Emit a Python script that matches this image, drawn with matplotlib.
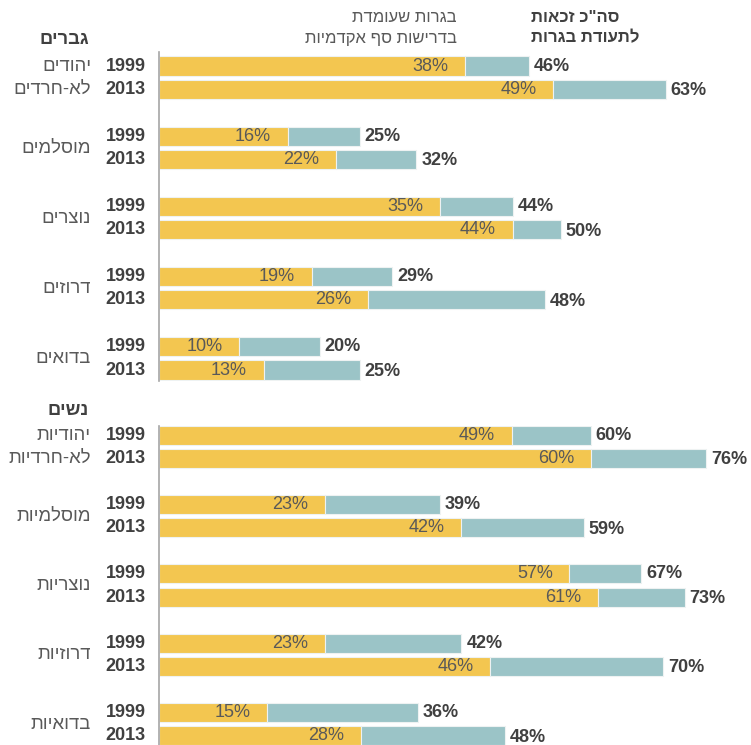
#Horizontal stacked bars: matriculation eligibility 1999 vs 2013, men and women by population group

import matplotlib.pyplot as plt
from matplotlib.transforms import blended_transform_factory

###*******  DATA  *********###
years = ['1999', '2013']

men_groups = ['יהודים', 'מוסלמים', 'נוצרים', 'דרוזים', 'בדואים']
men_groups_line2 = ['לא-חרדים', '', '', '', '']
men_base_1999 = [38, 16, 35, 19, 10]
men_total_1999 = [46, 25, 44, 29, 20]
men_base_2013 = [49, 22, 44, 26, 13]
men_total_2013 = [63, 32, 50, 48, 25]

women_groups = ['יהודיות', 'מוסלמיות', 'נוצריות', 'דרוזיות', 'בדואיות']
women_groups_line2 = ['לא-חרדיות', '', '', '', '']
women_base_1999 = [49, 23, 57, 23, 15]
women_total_1999 = [60, 39, 67, 42, 36]
women_base_2013 = [60, 42, 61, 46, 28]
women_total_2013 = [76, 59, 73, 70, 48]

header_base = ['בגרות שעומדת', 'בדרישות סף אקדמיות']
header_total = ['סה"כ זכאות', 'לתעודת בגרות']
title_men = 'גברים'
title_women = 'נשים'

#colors and fonts
yellow = '#F3C650'
teal = '#9BC4C7'
dark = '#404040'
mid = '#595959'
narrow = ['Liberation Sans Narrow', 'Liberation Sans', 'DejaVu Sans']
heb = ['Liberation Sans', 'DejaVu Sans']


def rtl(s):
    #matplotlib has no bidi, so flip hebrew for display
    return s[::-1]


W, H = 751, 745
fig = plt.figure(figsize=(W / 100, H / 100), dpi=100)


def draw_panel(top_px, bot_px, xmax, ylim, groups, groups2, b99, t99, b13, t13):
    ax = fig.add_axes([159 / W, 1 - bot_px / H, 1 - 159 / W, (bot_px - top_px) / H])
    trans = blended_transform_factory(fig.transFigure, ax.transData)
    for g in range(len(groups)):
        y0 = g * 3
        rows = [(y0, b99[g], t99[g], years[0]), (y0 + 1, b13[g], t13[g], years[1])]
        for y, base, total, yr in rows:
            ax.barh(y, base, height=0.82, color=yellow, edgecolor='#eef2f2', lw=0.8)
            ax.barh(y, total - base, left=base, height=0.82, color=teal,
                    edgecolor='#eef2f2', lw=0.8)
            ax.annotate(f'{base}%', (base, y), xytext=(-12, 0), textcoords='offset points',
                        ha='right', va='center', fontsize=13, color=mid, family=narrow)
            dy = -1 if yr == years[1] else 0
            ax.annotate(f'{total}%', (total, y), xytext=(3.5, dy), textcoords='offset points',
                        ha='left', va='center', fontsize=13, color=dark, family=narrow,
                        fontweight='bold')
            ax.text(146 / W, y, yr, transform=trans, ha='right', va='center',
                    fontsize=13, color=dark, family=narrow, fontweight='bold')
        if groups2[g]:
            ax.text(91 / W, y0, rtl(groups[g]), transform=trans, ha='right', va='center',
                    fontsize=13.3, color=mid, family=heb)
            ax.text(91 / W, y0 + 1, rtl(groups2[g]), transform=trans, ha='right',
                    va='center', fontsize=13.3, color=mid, family=heb)
        else:
            ax.text(91 / W, y0 + 0.5, rtl(groups[g]), transform=trans, ha='right',
                    va='center', fontsize=13.3, color=mid, family=heb)
    ax.set_xlim(0, xmax)
    ax.set_ylim(*ylim)
    for s in ['top', 'right', 'bottom']:
        ax.spines[s].set_visible(False)
    ax.spines['left'].set_color('#a6a6a6')
    ax.spines['left'].set_linewidth(1.2)
    ax.set_xticks([])
    ax.set_yticks([])
    ax.patch.set_alpha(0)
    return ax


draw_panel(52, 381, 592 / 8.04, (13.47, -0.6),
           men_groups, men_groups_line2, men_base_1999, men_total_1999, men_base_2013, men_total_2013)
draw_panel(426, 745, 592 / 7.2, (13.39, -0.39),
           women_groups, women_groups_line2, women_base_1999, women_total_1999,
           women_base_2013, women_total_2013)

#headers
fig.text(457 / W, 1 - 17 / H, rtl(header_base[0]), ha='right', va='center',
         fontsize=12, color=mid, family=heb)
fig.text(457 / W, 1 - 38 / H, rtl(header_base[1]), ha='right', va='center',
         fontsize=12, color=mid, family=heb)
fig.text(531 / W, 1 - 17 / H, rtl(header_total[0]), ha='left', va='center',
         fontsize=12, color=dark, family=heb, fontweight='bold')
fig.text(531 / W, 1 - 38 / H, rtl(header_total[1]), ha='left', va='center',
         fontsize=12, color=dark, family=heb, fontweight='bold')
fig.text(89 / W, 1 - 40 / H, rtl(title_men), ha='right', va='center',
         fontsize=13.2, color=dark, family=heb, fontweight='bold')
fig.text(89 / W, 1 - 411 / H, rtl(title_women), ha='right', va='center',
         fontsize=13.2, color=dark, family=heb, fontweight='bold')

plt.savefig('out.png', dpi=100)
